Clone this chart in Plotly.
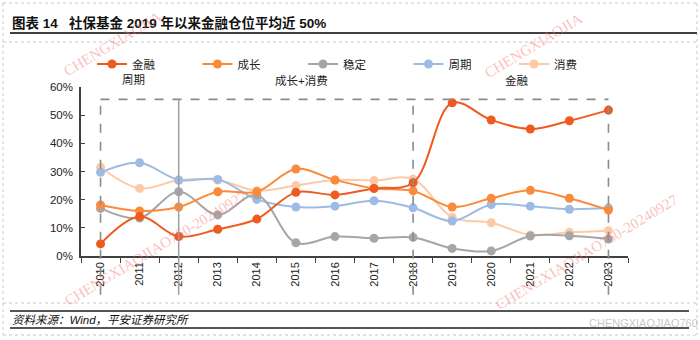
import plotly.graph_objects as go

years = list(range(2010, 2024))
tick_labels = [str(y) for y in years]

finance = [4.3, 14.0, 6.9, 9.5, 13.1, 22.6, 21.7, 24.0, 26.0, 54.4, 48.3, 45.1, 48.0, 51.8]
growth = [18.1, 16.0, 17.4, 22.8, 22.8, 30.9, 27.0, 24.0, 23.1, 17.4, 20.5, 23.3, 20.5, 16.3]
stable = [16.9, 13.5, 22.8, 14.6, 21.7, 4.7, 6.9, 6.3, 6.6, 2.7, 1.8, 7.1, 7.2, 6.0]
cycle = [29.7, 33.1, 27.0, 27.2, 20.1, 17.4, 17.7, 19.6, 17.1, 12.4, 18.3, 17.7, 16.6, 17.1]
consume = [31.5, 24.0, 26.9, 27.0, 23.2, 25.0, 27.0, 26.8, 27.3, 13.7, 11.8, 7.5, 8.4, 9.0]

series_names = ["金融", "成长", "稳定", "周期", "消费"]
series_values = [finance, growth, stable, cycle, consume]
series_colors = ["#EF5A1F", "#FB8A3B", "#A6A6A6", "#9DBBE4", "#FDCAA5"]

phase_labels = ["周期", "成长+消费", "金融"]
phase_label_x = [2010.85, 2015.15, 2020.65]

title_text = "图表 14   社保基金 2019 年以来金融仓位平均近 50%"
source_text = "资料来源：Wind，平安证券研究所"
watermark = "CHENGXIAOJIAO760-20240927"
watermark_top = "CHENGXIAOJIA"
watermark2 = "CHENGXIAOJIAO760"

W, H = 700, 340
L, R, T, B = 81, 72, 87, 84
PW, PH = W - L - R, H - T - B

def px(x):
    return (x - L) / PW

def py(y):
    return (H - B - y) / PH

CJK = "Liberation Sans, Noto Sans CJK SC, sans-serif"

fig = go.Figure()
for name, vals, col in reversed(list(zip(series_names, series_values, series_colors))):
    fig.add_trace(go.Scatter(
        x=years, y=vals, name=name, mode="lines+markers",
        line=dict(color=col, width=2, shape="spline", smoothing=1.0),
        marker=dict(color=col, size=9),
    ))

shapes = []
grey_dash = dict(color="#8C8C8C", width=1.6, dash="dash")
box_top = 55.6
top_paper = box_top / 60
shapes.append(dict(type="line", xref="x", yref="y", x0=2010, x1=2023, y0=box_top, y1=box_top, line=grey_dash))
for xv in [2010, 2018, 2023]:
    shapes.append(dict(type="line", xref="x", yref="paper", x0=xv, x1=xv, y0=-0.23, y1=top_paper, line=grey_dash))
shapes.append(dict(type="line", xref="x", yref="paper", x0=2012, x1=2012, y0=-0.23, y1=top_paper,
                   line=dict(color="#A0A0A0", width=1.5)))

dot = dict(color="#C8C8C8", width=1, dash="dot")
dark = dict(color="#404040", width=2)
for yy in [3, 42, 303, 335]:
    shapes.append(dict(type="line", xref="paper", yref="paper", x0=px(3), x1=px(697), y0=py(yy), y1=py(yy), line=dot))
for xx in [3, 697]:
    shapes.append(dict(type="line", xref="paper", yref="paper", x0=px(xx), x1=px(xx), y0=py(3), y1=py(335), line=dot))
shapes.append(dict(type="line", xref="paper", yref="paper", x0=px(10), x1=px(697), y0=py(33), y1=py(33), line=dark))
for yy in [311, 328]:
    shapes.append(dict(type="line", xref="paper", yref="paper", x0=px(10), x1=px(689), y0=py(yy), y1=py(yy),
                       line=dict(color="#555555", width=2)))

annotations = []
for lab, xv in zip(phase_labels, phase_label_x):
    annotations.append(dict(x=xv, y=py(80), xref="x", yref="paper", text=lab, showarrow=False,
                            font=dict(size=11.5, color="#222", family=CJK), yanchor="middle"))
annotations.append(dict(x=px(10), y=py(23), xref="paper", yref="paper", text="<b>" + title_text + "</b>",
                        showarrow=False, xanchor="left", yanchor="middle",
                        font=dict(size=13.5, color="#111", family=CJK)))
annotations.append(dict(x=px(10), y=py(320), xref="paper", yref="paper", text="<i>" + source_text + "</i>",
                        showarrow=False, xanchor="left", yanchor="middle",
                        font=dict(size=11.5, color="#111", family=CJK)))
wm_font = dict(size=15, color="rgba(245,110,110,0.45)", family="Liberation Serif, serif")
for txt, cx, cy in [(watermark_top, 112, 44), (watermark_top, 533, 46), (watermark, 156, 248), (watermark, 587, 252)]:
    annotations.append(dict(x=px(cx), y=py(cy), xref="paper", yref="paper", text=txt, showarrow=False,
                            textangle=-31, font=wm_font, xanchor="center", yanchor="middle"))
annotations.append(dict(x=px(643), y=py(323), xref="paper", yref="paper", text=watermark2, showarrow=False,
                        font=dict(size=11, color="rgba(150,150,150,0.55)", family="Liberation Sans"),
                        xanchor="center", yanchor="middle"))

fig.update_layout(
    width=W, height=H,
    margin=dict(l=L, r=R, t=T, b=B, autoexpand=False),
    paper_bgcolor="white", plot_bgcolor="white",
    font=dict(family=CJK, size=11.5, color="#222"),
    showlegend=True,
    legend=dict(orientation="h", xref="container", yref="paper",
                x=92 / W, y=py(64), xanchor="left", yanchor="middle",
                traceorder="reversed", entrywidth=60.5, entrywidthmode="pixels",
                font=dict(size=11.5, color="#222", family=CJK), bgcolor="rgba(0,0,0,0)",
                itemclick=False),
    shapes=shapes,
    annotations=annotations,
    xaxis=dict(
        range=[2009.5, 2023.5], tickmode="array", tickvals=years, ticktext=tick_labels,
        tickangle=-90, ticks="", showgrid=False, zeroline=False,
        showline=True, linecolor="#404040", linewidth=1.5,
        tickfont=dict(size=11, color="#222", family="Liberation Sans"),
        minor=dict(tickmode="linear", tick0=2009.5, dtick=1, ticks="outside", ticklen=5,
                   tickcolor="#404040", tickwidth=1.2, showgrid=False),
    ),
    yaxis=dict(
        range=[0, 60], tickmode="linear", tick0=0, dtick=10, ticksuffix="%",
        ticks="inside", ticklen=4, tickcolor="#404040", showgrid=False, zeroline=False,
        showline=True, linecolor="#404040", linewidth=1.5,
        tickfont=dict(size=11.5, color="#222", family="Liberation Sans"),
        ticklabelstandoff=4,
    ),
)

fig.write_html("out.html")
